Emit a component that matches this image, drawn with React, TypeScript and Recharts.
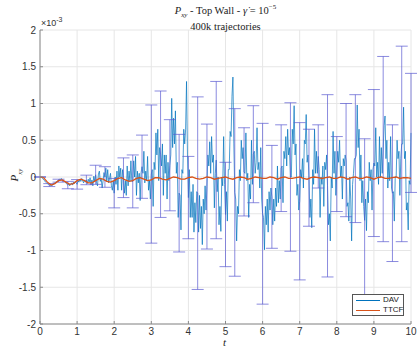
import React from "react";
import { ComposedChart, Line, XAxis, YAxis, CartesianGrid, ErrorBar } from "recharts";

// time step of the DAV series and TTCF series
const davStep = 0.025;
const ttcfStep = 0.1;

// P_xy (DAV), in units of 1e-3, one row per 0.25 of t
const davValues = [
  0, 0.0, -0.01, -0.02, -0.04, -0.05, -0.07, -0.08, -0.09, -0.1,
  -0.11, -0.12, -0.11, -0.12, -0.1, -0.09, -0.08, -0.07, -0.06, -0.05,
  -0.05, -0.03, -0.04, -0.02, -0.05, -0.04, -0.06, -0.07, -0.08, -0.1,
  -0.11, -0.09, -0.12, -0.1, -0.08, -0.11, -0.07, -0.09, -0.06, -0.08,
  -0.1, -0.05, -0.07, -0.03, -0.06, -0.02, -0.05, -0.08, -0.04, -0.07,
  -0.04, -0.09, -0.03, -0.07, -0.01, -0.1, -0.04, -0.12, 0.01, -0.06,
  0.03, -0.08, -0.12, 0.04, 0.08, -0.06, -0.02, -0.15, -0.05, 0.06,
  0.0, 0.12, -0.06, 0.1, -0.08, -0.02, 0.05, -0.12, -0.18, -0.05,
  -0.22, 0.0, -0.1, 0.08, -0.18, 0.15, 0.0, 0.12, -0.18, 0.1,
  -0.01, -0.22, -0.05, -0.25, 0.15, -0.12, 0.08, -0.06, 0.22, -0.06,
  -0.06, 0.22, 0.0, 0.28, -0.25, 0.08, -0.08, 0.05, -0.32, 0.06,
  0.14, 0.05, 0.35, -0.08, 0.08, -0.05, 0.28, -0.18, -0.05, -0.3,
  0.04, 0.1, -0.4, 0.2, 0.1, 0.6, 0.3, 0.65, -0.05, 0.4,
  0.31, 0.15, 0.45, -0.25, 0.3, 0.05, 0.3, -0.3, 0.2, -0.05,
  0.16, 0.3, 1.07, 0.4, 0.8, 0.45, 0.9, 0.05, 0.2, -0.55,
  -0.22, -0.25, -0.72, 0.1, 0.05, 0.65, 0.45, 0.65, 1.3, 0.3,
  -0.28, 0.1, -0.55, -0.2, -0.55, -0.1, -0.75, -0.35, -0.62, -0.2,
  -0.22, -0.75, -0.25, -0.7, -0.4, -0.92, -0.3, -0.5, -0.12, -0.45,
  -0.13, 0.3, 0.15, 0.48, 0.05, 0.55, 0.2, 0.3, -0.42, 0.05,
  0.23, -0.2, 0.0, -0.65, -0.4, -0.74, 0.0, -0.12, 0.55, -0.1,
  -0.51, -0.2, -0.6, 0.1, 0.1, 0.62, 0.55, 1.1, 1.36, 0.45,
  -0.21, -0.3, -0.87, -0.4, -0.5, 0.1, -0.05, 0.5, 0.25, 0.4,
  0.07, 0.05, 0.6, -0.05, 0.05, -0.55, -0.1, -0.3, 0.5, -0.1,
  0.31, 0.35, 0.05, 0.2, 0.67, 0.1, 0.2, -0.15, 0.4, -0.3,
  -0.5, -0.55, -0.99, -0.4, -0.65, -0.3, -0.75, -0.2, -0.45, -0.15,
  -0.27, -0.65, -0.3, -0.6, -0.15, -0.4, 0.15, -0.35, -0.05, -0.3,
  0.12, 0.15, -0.35, 0.35, 0.25, 0.55, 0.15, 0.65, 0.3, 0.4,
  0.0, 0.0, 0.65, 0.45, 0.97, 0.3, 0.45, -0.25, -0.1, -0.45,
  -0.33, 0.1, 0.0, 0.25, -0.15, 0.5, 0.45, 0.85, 0.2, 0.3,
  -0.01, -0.55, -0.3, -0.69, 0.1, -0.1, 0.65, 0.05, 0.35, 0.05,
  0.28, 0.1, -0.55, 0.0, -0.1, 0.15, -0.4, 0.2, 0.1, 0.3,
  -0.12, -0.65, -0.5, -0.87, 0.0, -0.15, 0.62, 0.05, 0.35, -0.25,
  0.04, 0.35, 0.2, 0.5, 0.0, 0.15, -0.3, 0.25, 0.15, 0.3,
  0.23, -0.4, -0.35, -0.6, 0.0, -0.3, -0.87, -0.1, 0.05, 0.25,
  0.25, 0.3, 0.98, 0.4, 0.65, -0.05, 0.3, -0.35, -0.05, -0.4,
  -0.59, -0.3, -0.73, -0.2, -0.35, 0.2, -0.05, 0.1, -0.45, 0.1,
  0.19, 0.15, 0.67, 0.0, 0.2, -0.1, 0.55, 0.0, 0.4, 0.05,
  0.38, 0.7, 0.83, 0.25, 0.5, -0.15, 0.2, -0.05, 0.55, -0.15,
  -0.22, -0.2, -0.6, 0.0, 0.0, 0.5, 0.25, 0.35, -0.25, 0.25,
  0.45, 0.45, 0.95, 0.25, 0.35, -0.45, -0.35, -0.72, -0.05, -0.1,
  0.6,
];

// half-width of the error bars, one every 0.25 of t (every 10th DAV sample)
const errValues = [
  0.005, 0.02, 0.02, 0.05, 0.065, 0.065, 0.13, 0.14, 0.2, 0.27,
  0.36, 0.43, 0.94, 0.86, 0.62, 0.8, 0.56, 1.31, 0.85, 1.07,
  0.71, 1.14, 0.6, 0.66, 1.23, 0.7, 0.59, 1.01, 1.07, 0.66,
  0.43, 1.24, 0.51, 0.77, 0.87, 1.11, 1.0, 1.26, 0.93, 1.33,
  0.81,
];

// P_xy (TTCF), in units of 1e-3
const ttcfValues = [
  0, -0.01, -0.07, -0.11, -0.09, -0.05, -0.04, -0.07, -0.1, -0.09,
  -0.05, -0.03, -0.05, -0.08, -0.08, -0.05, -0.02, -0.03, -0.06, -0.07,
  -0.05, -0.02, -0.01, -0.04, -0.06, -0.05, -0.02, -0.01, -0.03, -0.05,
  -0.04, -0.01, -0.01, -0.03, -0.04, -0.02, 0.0, -0.01, -0.03, -0.03,
  -0.01, 0.0, -0.02, -0.03, -0.02, 0.0, -0.01, -0.03, -0.02, -0.01,
  0.0, -0.02, -0.03, -0.01, 0.0, -0.01, -0.03, -0.02, 0.0, -0.01,
  -0.02, -0.02, 0.0, -0.01, -0.03, -0.01, 0.0, -0.02, -0.02, -0.01,
  0.0, -0.02, -0.03, -0.01, 0.0, -0.01, -0.02, -0.01, 0.0, -0.02,
  -0.02, 0.0, -0.01, -0.03, -0.01, 0.0, -0.02, -0.02, 0.0, -0.01,
  -0.03, -0.01, 0.0, -0.02, -0.02, -0.01, 0.0, -0.02, -0.01, -0.01,
  -0.02,
];

const xTicks = [0, 1, 2, 3, 4, 5, 6, 7, 8, 9, 10];
const yTicks = [-2, -1.5, -1, -0.5, 0, 0.5, 1, 1.5, 2];

const davData = davValues.map((v, i) => ({ t: +(i * davStep).toFixed(3), v }));
const ttcfData = ttcfValues.map((v, i) => ({ t: +(i * ttcfStep).toFixed(3), v }));
const errData = errValues.map((e, k) => ({ t: k * 0.25, v: davValues[k * 10], err: e }));

const AXIS = "#8a8a8a";
const tickStyle = { fill: "#333", fontSize: 10, fontFamily: "'Liberation Sans', Arial, sans-serif" };
const serif = "'Liberation Serif', 'DejaVu Serif', serif";

export default function App() {
  return (
    <div style={{ position: "absolute", left: 0, top: 0, width: 417, height: 347, background: "#fff" }}>
      <ComposedChart width={417} height={347} margin={{ top: 30, right: 6, bottom: 0, left: 0 }}>
        <CartesianGrid stroke="#e6e6e6" />
        <XAxis
          type="number"
          dataKey="t"
          domain={[0, 10]}
          ticks={xTicks}
          allowDuplicatedCategory={false}
          height={23}
          stroke={AXIS}
          tickSize={-3}
          tickMargin={7}
          tick={tickStyle}
        />
        <XAxis xAxisId="top" orientation="top" type="number" dataKey="t" domain={[0, 10]} ticks={xTicks}
          height={0} stroke={AXIS} tickSize={-3} tickFormatter={() => ""} />
        <YAxis type="number" domain={[-2, 2]} ticks={yTicks} width={40} stroke={AXIS}
          tickSize={-3} tickMargin={7} tick={tickStyle} />
        <YAxis yAxisId="right" orientation="right" type="number" domain={[-2, 2]} ticks={yTicks}
          width={0} stroke={AXIS} tickSize={-3} tickFormatter={() => ""} />
        <Line data={davData} dataKey="v" stroke="#0072BD" strokeWidth={0.7} dot={false} isAnimationActive={false} />
        <Line data={errData} dataKey="v" stroke="none" dot={false} isAnimationActive={false}>
          <ErrorBar dataKey="err" direction="y" width={6} stroke="#5a5ad2" strokeOpacity={0.7} strokeWidth={1} />
        </Line>
        <Line data={ttcfData} dataKey="v" stroke="#D95319" strokeWidth={1.3} dot={false} isAnimationActive={false} />
      </ComposedChart>

      <div style={{ position: "absolute", left: 0, width: 451, top: 2, textAlign: "center", fontFamily: serif, fontSize: 10.5, lineHeight: "11px", color: "#222" }}>
        <div>
          <i>P</i><sub style={{ fontSize: 7 }}><i>xy</i></sub> - Top Wall - <i>γ̇</i> = 10<sup style={{ fontSize: 7 }}>−5</sup>
        </div>
        <div>400k trajectories</div>
      </div>
      <div style={{ position: "absolute", left: 41, top: 16, fontFamily: "'Liberation Sans', Arial, sans-serif", fontSize: 9, color: "#333" }}>
        ×10<sup style={{ fontSize: 7 }}>-3</sup>
      </div>
      <div style={{ position: "absolute", left: 6, top: 164, width: 20, transform: "rotate(-90deg)", fontFamily: serif, fontSize: 11, color: "#222" }}>
        <i>P</i><sub style={{ fontSize: 7 }}><i>xy</i></sub>
      </div>
      <div style={{ position: "absolute", left: 223, top: 337, fontFamily: serif, fontSize: 11, lineHeight: "10px", fontStyle: "italic", color: "#222" }}>t</div>

      <div style={{ position: "absolute", left: 352, top: 294, width: 52, height: 22, border: "1px solid #555", background: "#fff", boxSizing: "border-box", fontFamily: "'Liberation Sans', Arial, sans-serif", fontSize: 8, color: "#222" }}>
        <div style={{ position: "absolute", left: 3, top: 5, width: 24, borderTop: "1px solid #0072BD" }} />
        <div style={{ position: "absolute", left: 30, top: 0, lineHeight: "10px" }}>DAV</div>
        <div style={{ position: "absolute", left: 3, top: 15, width: 24, borderTop: "1px solid #D95319" }} />
        <div style={{ position: "absolute", left: 30, top: 10, lineHeight: "10px" }}>TTCF</div>
      </div>
    </div>
  );
}
